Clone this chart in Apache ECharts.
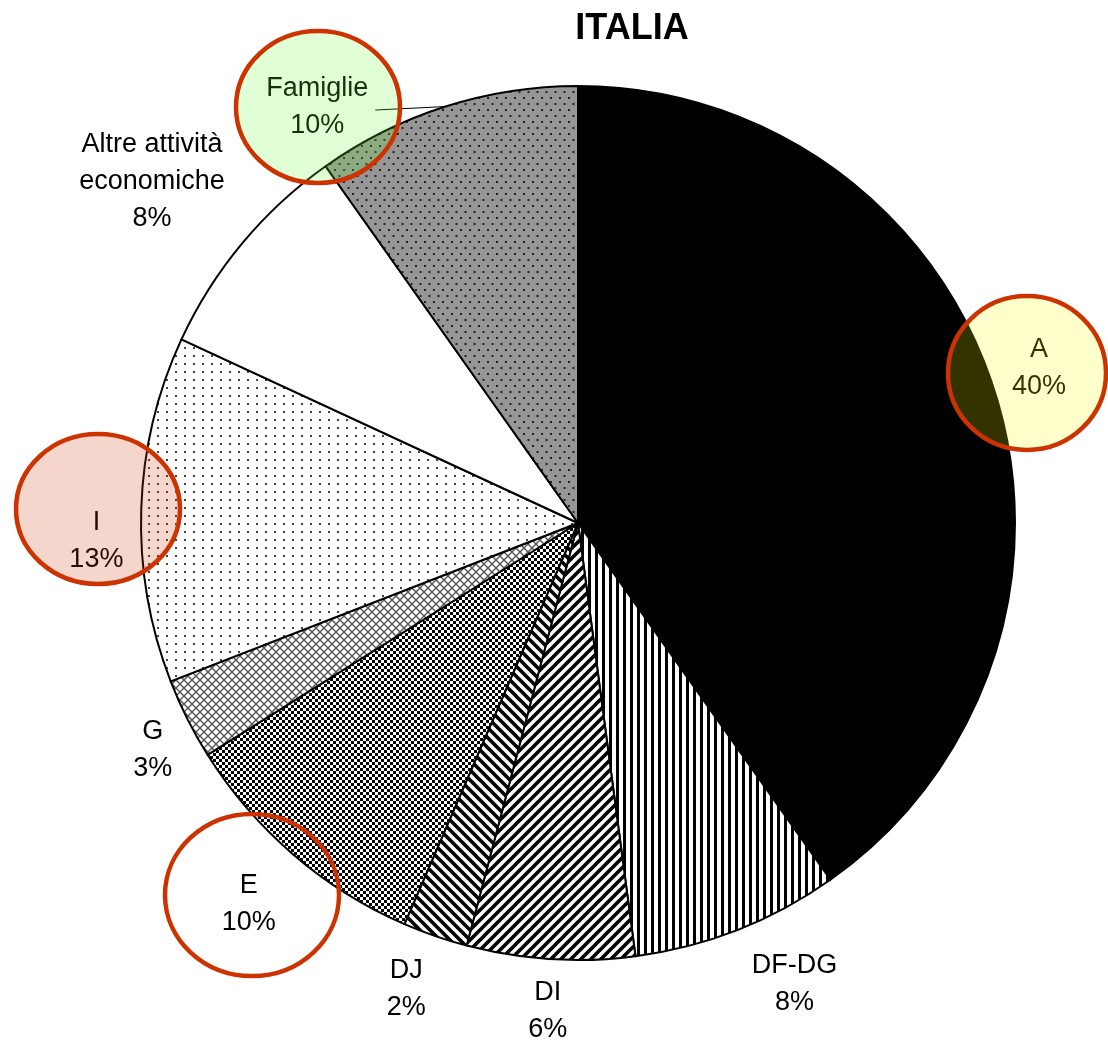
<!DOCTYPE html>
<html>
<head>
<meta charset="utf-8">
<script src="https://cdn.jsdelivr.net/npm/echarts@6/dist/echarts.min.js"></script>
<style>
html,body{margin:0;padding:0;background:#fff;}
#chart{width:1108px;height:1043px;}
</style>
</head>
<body>
<div id="chart"></div>
<script>
// ---- data ----
const categories = ['A', 'DF-DG', 'DI', 'DJ', 'E', 'G', 'I', 'Altre attività\neconomiche', 'Famiglie'];
const values = [40.2, 7.7, 6.2, 2.4, 9.6, 3.0, 12.8, 8.3, 9.8];
const titleText = 'ITALIA';

// ---- label placement styles (distance from centre, angular shift in degrees) ----
const labelDist = [488, 511, 490, 497, 503, 481, 480, 544, 489];
const labelShift = [-0.8, -3.9, -0.3, 0.9, -0.1, -1.7, -4.1, -1.0, -14.3];

const CX = 578, CY = 523, R = 437;

function makePattern(w, h, draw) {
  const c = document.createElement('canvas');
  c.width = w; c.height = h;
  const g = c.getContext('2d');
  draw(g, w, h);
  return { image: c, repeat: 'repeat' };
}
const patterns = [
  '#000000',
  makePattern(7, 7, (g) => { g.fillStyle = '#fff'; g.fillRect(0,0,7,7); g.fillStyle = '#000'; g.fillRect(0,0,3,7); }),
  makePattern(10, 10, (g) => { g.fillStyle = '#fff'; g.fillRect(0,0,10,10); g.strokeStyle = '#000'; g.lineWidth = 3.6;
    g.beginPath(); g.moveTo(-5,5); g.lineTo(5,-5); g.moveTo(0,10); g.lineTo(10,0); g.moveTo(5,15); g.lineTo(15,5); g.stroke(); }),
  makePattern(10, 10, (g) => { g.fillStyle = '#fff'; g.fillRect(0,0,10,10); g.strokeStyle = '#000'; g.lineWidth = 3.6;
    g.beginPath(); g.moveTo(-5,5); g.lineTo(5,15); g.moveTo(0,0); g.lineTo(10,10); g.moveTo(5,-5); g.lineTo(15,5); g.stroke(); }),
  makePattern(6, 6, (g) => { g.fillStyle = '#fff'; g.fillRect(0,0,6,6); g.fillStyle = '#000'; g.fillRect(0,0,3,3); g.fillRect(3,3,3,3); }),
  makePattern(8, 8, (g) => { g.fillStyle = '#fff'; g.fillRect(0,0,8,8); g.strokeStyle = '#555'; g.lineWidth = 1.4;
    g.beginPath(); g.moveTo(-1,-1); g.lineTo(9,9); g.moveTo(-1,9); g.lineTo(9,-1); g.stroke(); }),
  makePattern(9, 8, (g) => { g.fillStyle = '#fff'; g.fillRect(0,0,9,8); g.fillStyle = '#444'; g.fillRect(4,3,2,2); }),
  '#ffffff',
  makePattern(9, 12, (g) => { g.fillStyle = '#969696'; g.fillRect(0,0,9,12); g.fillStyle = '#222';
    g.fillRect(1,1,2,2); g.fillRect(5.5,7,2,2); })
];

const total = values.reduce((a, b) => a + b, 0);
const starts = [];
let acc = 0;
values.forEach(v => { starts.push(acc); acc += v; });

function labelPos(i) {
  const mid = (starts[i] + values[i] / 2) / total * 360 + labelShift[i];
  const t = mid * Math.PI / 180;
  return [CX - 2 + labelDist[i] * Math.sin(t), CY - 1 - labelDist[i] * Math.cos(t)];
}
function edgePoint(i) {
  const mid = (starts[i] + values[i] / 2) / total * 360;
  const t = mid * Math.PI / 180;
  return [CX + R * Math.sin(t), CY - R * Math.cos(t)];
}

const chart = echarts.init(document.getElementById('chart'), null, { renderer: 'canvas' });

const option = {
  backgroundColor: '#ffffff',
  animation: false,
  title: {
    text: titleText,
    left: 627,
    top: 6,
    textAlign: 'center',
    textStyle: { fontFamily: 'Liberation Sans', fontWeight: 'bold', fontSize: 36, color: '#000' }
  },
  series: [{
    type: 'pie',
    center: [CX, CY],
    radius: R,
    startAngle: 90,
    clockwise: true,
    avoidLabelOverlap: false,
    itemStyle: { borderColor: '#000', borderWidth: 2 },
    emphasis: { disabled: true },
    label: {
      show: true,
      position: 'outside',
      formatter: (p) => p.name + '\n' + Math.round(p.value / total * 100) + '%',
      fontFamily: 'Liberation Sans',
      fontSize: 27,
      lineHeight: 37,
      color: '#000',
      align: 'center'
    },
    labelLine: { show: false, lineStyle: { color: '#000', width: 1 } },
    labelLayout: function (p) {
      const i = p.dataIndex;
      const pos = labelPos(i);
      const res = { x: pos[0], y: pos[1], align: 'center', verticalAlign: 'middle' };
      if (i === values.length - 1) {
        const e = edgePoint(i);
        const sx = pos[0] + 58;
        res.labelLinePoints = [[e[0], e[1]], [sx, pos[1] + 3], [sx, pos[1] + 3]];
      }
      return res;
    },
    data: categories.map((c, i) => ({
      name: c,
      value: values[i],
      itemStyle: { color: patterns[i] },
      labelLine: i === values.length - 1 ? { show: true, length: 10, length2: 10 } : { show: false }
    }))
  }],
  graphic: [
    { type: 'ellipse', z: 100, shape: { cx: 1027, cy: 373, rx: 79, ry: 77 },
      style: { fill: 'rgba(255,255,0,0.2)', stroke: '#CC3300', lineWidth: 4.5 } },
    { type: 'ellipse', z: 100, shape: { cx: 318, cy: 107, rx: 82, ry: 76 },
      style: { fill: 'rgba(102,255,51,0.2)', stroke: '#CC3300', lineWidth: 4.5 } },
    { type: 'ellipse', z: 100, shape: { cx: 98, cy: 509, rx: 82, ry: 75 },
      style: { fill: 'rgba(204,51,0,0.2)', stroke: '#CC3300', lineWidth: 4.5 } },
    { type: 'ellipse', z: 100, shape: { cx: 252, cy: 895, rx: 87, ry: 81 },
      style: { fill: 'rgba(255,255,255,0)', stroke: '#CC3300', lineWidth: 4.5 } }
  ]
};
chart.setOption(option);
</script>
</body>
</html>
